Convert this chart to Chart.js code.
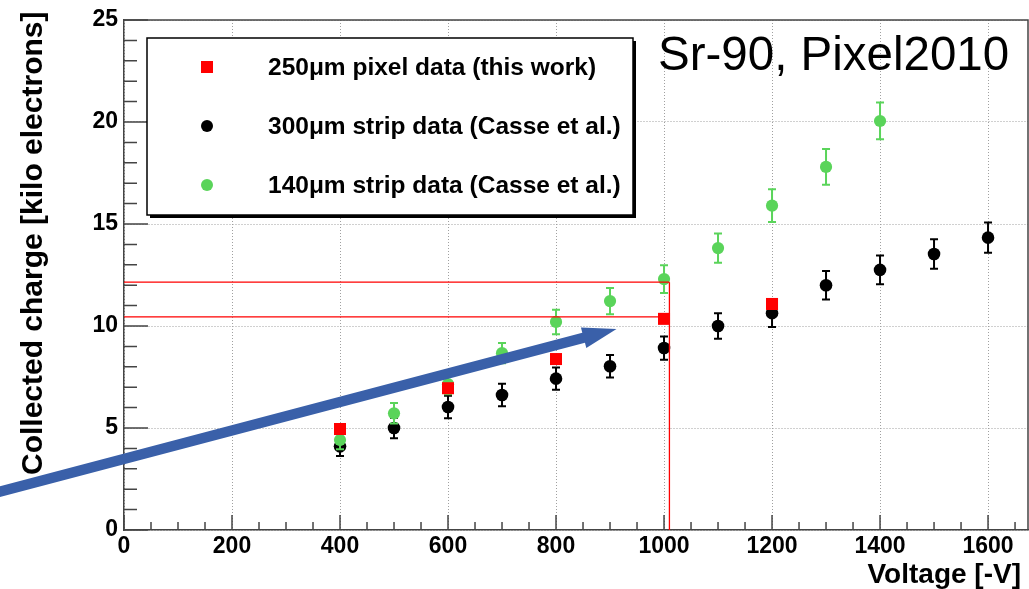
<!DOCTYPE html>
<html>
<head>
<meta charset="utf-8">
<script src="https://cdn.jsdelivr.net/npm/chart.js@4.4.1/dist/chart.umd.min.js"></script>
<style>
html,body{margin:0;padding:0;background:#fff;overflow:hidden;}
#wrap{width:1029px;height:589px;position:relative;}
canvas{display:block;}
</style>
</head>
<body>
<div id="wrap"><canvas id="c" width="1029" height="589"></canvas></div>
<script>
// ---------------- data ----------------
const VOLTS_PIXEL  = [400, 600, 800, 1000, 1200];
const CHARGE_PIXEL = [4.95, 6.95, 8.38, 10.35, 11.08];

const VOLTS_300  = [400, 500, 600, 700, 800, 900, 1000, 1100, 1200, 1300, 1400, 1500, 1600];
const CHARGE_300 = [4.1, 5.0, 6.03, 6.62, 7.42, 8.03, 8.92, 10.0, 10.63, 12.0, 12.75, 13.53, 14.33];
const ERR_300    = [0.47, 0.5, 0.55, 0.55, 0.55, 0.55, 0.57, 0.62, 0.68, 0.7, 0.7, 0.72, 0.74];

const VOLTS_140  = [400, 500, 600, 700, 800, 900, 1000, 1100, 1200, 1300, 1400];
const CHARGE_140 = [4.41, 5.72, 7.15, 8.67, 10.2, 11.22, 12.3, 13.82, 15.9, 17.8, 20.05];
const ERR_140    = [0.45, 0.5, 0.5, 0.5, 0.6, 0.64, 0.68, 0.72, 0.8, 0.88, 0.9];

const X_TICKS = [0, 200, 400, 600, 800, 1000, 1200, 1400, 1600];
const Y_TICKS = [0, 5, 10, 15, 20, 25];
const X_MINOR_STEP = 50;
const Y_MINOR_STEP = 1;
const X_MAX = 1674;
const Y_MAX = 25;

const SERIES_LABELS = [
  "250\u03bcm pixel data (this work)",
  "300\u03bcm strip data (Casse et al.)",
  "140\u03bcm strip data (Casse et al.)"
];
const TITLE_TEXT = "Sr-90, Pixel2010";
const X_TITLE = "Voltage [-V]";
const Y_TITLE = "Collected charge [kilo electrons]";

// reference lines (data units)
const REF_LINES_Y = [12.15, 10.45];
const REF_LINE_X = 1010;
// arrow annotation (data units)
const ARROW_FROM = [-239, 1.81];
const ARROW_TO   = [912, 9.85];

// ---------------- styles ----------------
const RED = '#ff0000', BLACK = '#000000', GREEN = '#5ad45a', ARROW_COLOR = '#3a60a9';
const FONT = "'Liberation Sans', Arial, Helvetica, sans-serif";
Chart.defaults.font.family = FONT;

const toPts = (xs, ys) => xs.map((x, i) => ({x: x, y: ys[i]}));

const datasets = [
  {label: SERIES_LABELS[0], data: toPts(VOLTS_PIXEL, CHARGE_PIXEL), pointStyle: 'rect',
   pointRadius: 8.5, backgroundColor: RED, borderWidth: 0, order: 0, showLine: false},
  {label: SERIES_LABELS[1], data: toPts(VOLTS_300, CHARGE_300), errors: ERR_300, pointStyle: 'circle',
   pointRadius: 6.3, backgroundColor: BLACK, borderWidth: 0, order: 2, showLine: false},
  {label: SERIES_LABELS[2], data: toPts(VOLTS_140, CHARGE_140), errors: ERR_140, pointStyle: 'circle',
   pointRadius: 6.1, backgroundColor: GREEN, borderWidth: 0, order: 1, showLine: false}
];

const rootPlugin = {
  id: 'rootStyle',
  beforeDatasetsDraw(chart) {
    const {ctx, chartArea: a, scales: {x, y}} = chart;
    ctx.save();
    ctx.strokeStyle = '#444';
    ctx.lineWidth = 1.5;
    ctx.beginPath();
    for (let v = 0; v <= X_MAX; v += X_MINOR_STEP) {
      const px = x.getPixelForValue(v);
      const major = X_TICKS.includes(v);
      ctx.moveTo(px, a.bottom);
      ctx.lineTo(px, a.bottom - (major ? 15 : 8));
    }
    for (let v = 0; v <= Y_MAX; v += Y_MINOR_STEP) {
      const py = y.getPixelForValue(v);
      const major = Y_TICKS.includes(v);
      ctx.moveTo(a.left, py);
      ctx.lineTo(a.left + (major ? 24 : 13), py);
    }
    ctx.stroke();
    ctx.beginPath();
    ctx.moveTo(a.left, a.top); ctx.lineTo(a.right, a.top); ctx.lineTo(a.right, a.bottom);
    ctx.stroke();
    ctx.restore();
  },
  beforeDatasetDraw(chart, args) {
    const ds = chart.data.datasets[args.index];
    if (!ds.errors) return;
    const {ctx, scales: {x, y}} = chart;
    ctx.save();
    ctx.strokeStyle = ds.backgroundColor;
    ctx.lineWidth = 2;
    ctx.beginPath();
    ds.data.forEach((p, i) => {
      const e = ds.errors[i];
      const px = x.getPixelForValue(p.x);
      const y1 = y.getPixelForValue(p.y - e), y2 = y.getPixelForValue(p.y + e);
      ctx.moveTo(px, y1); ctx.lineTo(px, y2);
      ctx.moveTo(px - 4, y1); ctx.lineTo(px + 4, y1);
      ctx.moveTo(px - 4, y2); ctx.lineTo(px + 4, y2);
    });
    ctx.stroke();
    ctx.restore();
  },
  afterDatasetsDraw(chart) {
    const {ctx, scales: {x, y}} = chart;
    ctx.save();
    ctx.strokeStyle = RED;
    ctx.lineWidth = 1.3;
    const vx = x.getPixelForValue(REF_LINE_X);
    ctx.beginPath();
    REF_LINES_Y.forEach(v => {
      const py = y.getPixelForValue(v);
      ctx.moveTo(x.getPixelForValue(0), py); ctx.lineTo(vx, py);
    });
    ctx.moveTo(vx, y.getPixelForValue(Math.max(...REF_LINES_Y)));
    ctx.lineTo(vx, y.getPixelForValue(0));
    ctx.stroke();

    // legend box with shadow
    const L = 147, T = 38, R = 633, B = 215;
    ctx.fillStyle = '#000';
    ctx.fillRect(L + 3, B, R - L, 3);
    ctx.fillRect(R, T + 3, 3, B - T);
    ctx.fillStyle = '#fff';
    ctx.fillRect(L, T, R - L, B - T);
    ctx.strokeStyle = '#000';
    ctx.lineWidth = 1.5;
    ctx.strokeRect(L, T, R - L, B - T);
    const rows = [67, 126, 185];
    chart.data.datasets.forEach((ds, i) => {
      const cy = rows[i];
      ctx.fillStyle = ds.backgroundColor;
      if (ds.pointStyle === 'rect') {
        ctx.fillRect(207 - 6, cy - 6, 12, 12);
      } else {
        ctx.beginPath(); ctx.arc(207, cy, 6, 0, Math.PI * 2); ctx.fill();
      }
      ctx.fillStyle = '#000';
      ctx.font = "bold 24.5px " + FONT;
      ctx.textAlign = 'left';
      ctx.textBaseline = 'alphabetic';
      ctx.fillText(ds.label, 268, cy + 7.5);
    });

    // title
    ctx.fillStyle = '#000';
    ctx.font = "47.5px " + FONT;
    ctx.textAlign = 'left';
    ctx.textBaseline = 'alphabetic';
    ctx.fillText(TITLE_TEXT, 658, 70);

    // arrow
    const x0 = x.getPixelForValue(ARROW_FROM[0]), y0 = y.getPixelForValue(ARROW_FROM[1]);
    const x1 = x.getPixelForValue(ARROW_TO[0]),   y1 = y.getPixelForValue(ARROW_TO[1]);
    const dx = x1 - x0, dy = y1 - y0, len = Math.hypot(dx, dy);
    const ux = dx / len, uy = dy / len, nx = -uy, ny = ux;
    const hl = 34, hh = 10.5, sh = 5.2;
    const bx = x1 - ux * hl, by = y1 - uy * hl;
    ctx.fillStyle = ARROW_COLOR;
    ctx.beginPath();
    ctx.moveTo(x0 + nx * sh, y0 + ny * sh);
    ctx.lineTo(bx + nx * sh, by + ny * sh);
    ctx.lineTo(bx + nx * hh, by + ny * hh);
    ctx.lineTo(x1, y1);
    ctx.lineTo(bx - nx * hh, by - ny * hh);
    ctx.lineTo(bx - nx * sh, by - ny * sh);
    ctx.lineTo(x0 - nx * sh, y0 - ny * sh);
    ctx.closePath();
    ctx.fill();
    ctx.restore();
  },
  afterDraw(chart) {
    const {ctx} = chart;
    ctx.save();
    ctx.fillStyle = '#000';
    ctx.font = "bold 28px " + FONT;
    ctx.textAlign = 'right';
    ctx.textBaseline = 'alphabetic';
    ctx.fillText(X_TITLE, 1021, 583);
    ctx.translate(42, 475);
    ctx.rotate(-Math.PI / 2);
    ctx.font = "bold 30px " + FONT;
    ctx.textAlign = 'left';
    ctx.fillText(Y_TITLE, 0, 0);
    ctx.restore();
  }
};

const plainLabel = v => String(v);

new Chart(document.getElementById('c'), {
  type: 'scatter',
  data: {datasets: datasets},
  options: {
    responsive: false,
    animation: false,
    devicePixelRatio: 1,
    layout: {autoPadding: false, padding: {top: 20, right: 1, left: 0, bottom: 0}},
    plugins: {legend: {display: false}, tooltip: {enabled: false}, title: {display: false}},
    scales: {
      x: {
        type: 'linear', min: 0, max: X_MAX,
        afterBuildTicks: s => { s.ticks = X_TICKS.map(v => ({value: v})); },
        afterFit: s => { s.height = 59; s.paddingLeft = 0; s.paddingRight = 0; },
        ticks: {font: {size: 23, weight: 'bold'}, color: '#000', padding: 3, maxRotation: 0,
                autoSkip: false, callback: plainLabel},
        grid: {color: '#a0a0a0', lineWidth: 1, drawTicks: false},
        border: {display: true, color: '#444', width: 1.5, dash: [1, 2]}
      },
      y: {
        type: 'linear', min: 0, max: Y_MAX,
        afterBuildTicks: s => { s.ticks = Y_TICKS.map(v => ({value: v})); },
        afterFit: s => { s.width = 124; s.paddingTop = 0; s.paddingBottom = 0; },
        ticks: {font: {size: 23, weight: 'bold'}, color: '#000', padding: 6, callback: plainLabel},
        grid: {color: '#a0a0a0', lineWidth: 1, drawTicks: false},
        border: {display: true, color: '#444', width: 1.5, dash: [1, 2]}
      }
    }
  },
  plugins: [rootPlugin]
});
</script>
</body>
</html>
